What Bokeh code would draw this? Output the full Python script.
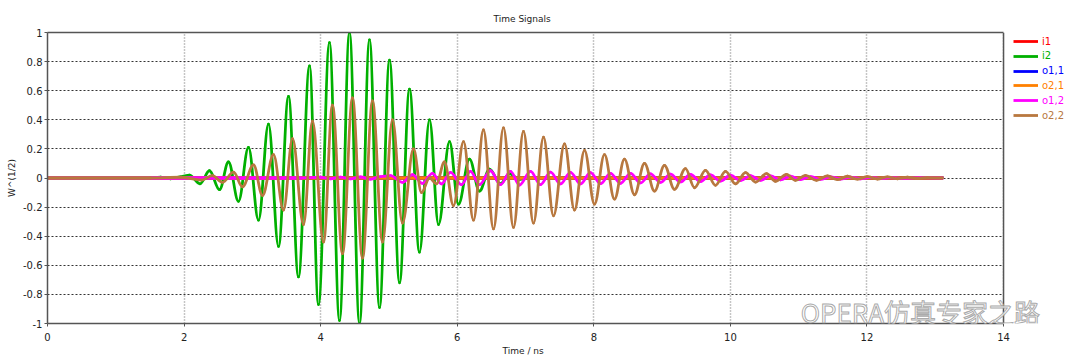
from bokeh.plotting import figure
from bokeh.models import (FixedTicker, CustomJSTickFormatter, Legend, LegendItem, Label,
                          BoxAnnotation, Span, Title, LinearAxis)
from bokeh.embed import file_html
from bokeh.resources import INLINE

# ---- data (extrema of each trace, time in ns) ----
t_zero = [0.0, 13.106]
v_zero = [0.0, 0.0]

t_i2 = [0.0, 1.494, 1.655, 1.801, 1.948, 2.079, 2.233, 2.372, 2.519, 2.650, 2.797, 2.943,
        3.090, 3.236, 3.383, 3.529, 3.675, 3.837, 3.968, 4.129, 4.276, 4.422, 4.569,
        4.715, 4.862, 5.008, 5.155, 5.301, 5.447, 5.594, 5.726, 5.887, 6.018, 6.180,
        6.326, 6.472, 6.634, 6.765, 6.912, 7.073, 13.106]
v_i2 = [0.0, 0.0, 0.005, -0.005, 0.008, 0.02, -0.04, 0.05, -0.08, 0.11, -0.16, 0.21,
        -0.29, 0.37, -0.47, 0.56, -0.68, 0.77, -0.87, 0.93, -0.98, 1.0, -1.0,
        0.95, -0.89, 0.81, -0.72, 0.61, -0.51, 0.40, -0.32, 0.25, -0.18, 0.13,
        -0.09, 0.06, -0.04, 0.03, -0.01, 0.0, 0.0]

t_o22 = [0.0, 1.508, 1.948, 2.255, 2.416, 2.563, 2.724, 2.855, 3.017, 3.148, 3.309, 3.456,
         3.588, 3.749, 3.880, 4.042, 4.173, 4.320, 4.466, 4.613, 4.759, 4.906, 5.052,
         5.198, 5.360, 5.477, 5.594, 5.696, 5.813, 5.945, 6.092, 6.238, 6.384, 6.531,
         6.677, 6.824, 6.970, 7.117, 7.263, 7.410, 7.571, 7.717, 7.864, 8.010, 8.156,
         8.303, 8.449, 8.596, 8.742, 8.889, 9.035, 9.181, 9.343, 9.474, 9.635, 9.782,
         9.928, 10.075, 10.221, 10.367, 10.529, 10.660, 10.821, 10.953, 11.100, 11.261,
         11.422, 11.568, 11.715, 11.861, 12.008, 12.154, 12.300, 12.447, 12.593, 12.740,
         12.886, 13.106]
v_o22 = [0.0, 0.0, 0.005, -0.014, 0.016, -0.03, 0.04, -0.06, 0.09, -0.12, 0.16, -0.22,
         0.27, -0.32, 0.39, -0.44, 0.50, -0.52, 0.55, -0.55, 0.53, -0.44, 0.40,
         -0.31, 0.20, -0.10, 0.0, -0.04, 0.11, -0.19, 0.25, -0.29, 0.33, -0.35,
         0.345, -0.34, 0.32, -0.31, 0.28, -0.26, 0.235, -0.22, 0.19, -0.18, 0.16,
         -0.145, 0.13, -0.115, 0.10, -0.09, 0.087, -0.078, 0.064, -0.067, 0.053, -0.05,
         0.046, -0.04, 0.037, -0.028, 0.03, -0.023, 0.025, -0.016, 0.018, -0.016,
         0.014, -0.011, 0.012, -0.008, 0.01, -0.007, 0.008, -0.005, 0.005, -0.003,
         0.003, 0.0]

t_o12 = [0.0, 3.705, 3.998, 4.144, 4.290, 4.437, 4.583, 4.730, 4.876, 5.023, 5.198, 5.345,
         5.491, 5.638, 5.770, 5.901, 6.062, 6.194, 6.326, 6.487, 6.633, 6.780, 6.912,
         7.073, 7.219, 7.366, 7.512, 7.658, 7.805, 7.951, 8.098, 8.244, 8.391, 8.537,
         8.683, 8.830, 8.976, 9.123, 9.269, 9.416, 9.562, 9.708, 9.855, 10.001, 10.148,
         10.294, 10.441, 10.587, 10.734, 10.880, 11.026, 11.173, 11.319, 11.466, 11.612,
         11.759, 11.905, 12.051, 12.198, 12.344, 12.491, 12.784, 13.106]
v_o12 = [0.0, 0.0, 0.005, -0.005, 0.006, -0.006, 0.007, -0.008, 0.01, 0.016, -0.03, 0.023,
         -0.037, 0.032, -0.041, 0.039, -0.046, 0.046, -0.046, 0.05, -0.046, 0.046, -0.048,
         0.046, -0.046, 0.040, -0.041, 0.039, -0.041, 0.037, -0.039, 0.032, -0.037, 0.032,
         -0.034, 0.028, -0.030, 0.026, -0.027, 0.024, -0.024, 0.021, -0.021, 0.019, -0.018,
         0.016, -0.016, 0.014, -0.013, 0.012, -0.011, 0.010, -0.009, 0.008, -0.007,
         0.006, -0.005, 0.004, -0.004, 0.003, -0.003, 0.002, 0.0]

series_names = ["i1", "i2", "o1,1", "o2,1", "o1,2", "o2,2"]
series_t = [t_zero, t_i2, t_zero, t_zero, t_o12, t_o22]
series_v = [v_zero, v_i2, v_zero, v_zero, v_o12, v_o22]
series_colors = ["#ff0000", "#00b000", "#0000ff", "#ff8000", "#ff00ff", "#b8783f"]

x_ticks = [0, 2, 4, 6, 8, 10, 12, 14]
y_ticks = [-1.0, -0.8, -0.6, -0.4, -0.2, 0.0, 0.2, 0.4, 0.6, 0.8, 1.0]
x_end = 14
x_view_end = 15.127   # frame continues under the legend column

FONT = "DejaVu Sans"
AX = "#555555"
LW = 2.8

p = figure(width=1080, height=359, output_backend="svg", toolbar_location=None,
           x_range=(0, x_view_end), y_range=(-1, 1),
           min_border_left=47, min_border_right=0, min_border_top=32, min_border_bottom=36,
           title="Time Signals")
p.title.align = "left"
p.title.offset = 446
p.title.standoff = 18
p.title.text_font = FONT
p.title.text_font_size = "9px"
p.title.text_font_style = "normal"
p.title.text_color = "#222222"

p.background_fill_color = "white"
p.outline_line_color = None

p.xaxis.ticker = FixedTicker(ticks=x_ticks)
p.yaxis.ticker = FixedTicker(ticks=y_ticks)
p.xaxis.bounds = (0, x_end)
p.yaxis.formatter = CustomJSTickFormatter(
    code="var s = tick.toFixed(1); s = s.replace(/\\.0$/, ''); return s == '-0' ? '0' : s;")
for ax in (p.xaxis, p.yaxis):
    ax.major_label_text_font = FONT
    ax.major_label_text_font_size = "10px"
    ax.major_label_text_color = "#222222"
    ax.axis_label_text_font = FONT
    ax.axis_label_text_font_size = "9px"
    ax.axis_label_text_font_style = "normal"
    ax.axis_label_text_color = "#222222"
    ax.axis_line_color = AX
    ax.axis_line_width = 1.5
    ax.major_tick_line_color = AX
    ax.major_tick_in = 0
    ax.major_tick_out = 3
    ax.minor_tick_line_color = None
p.yaxis.major_label_standoff = 2
p.yaxis.axis_label_standoff = 3
p.xaxis.major_label_standoff = 6
p.yaxis.axis_label = "W^(1/2)"

# top edge of the frame, only over 0..14
top = LinearAxis(bounds=(0, x_end), ticker=FixedTicker(ticks=[]),
                 axis_line_color=AX, axis_line_width=1.5,
                 major_tick_line_color=None, minor_tick_line_color=None,
                 major_label_text_font_size="0px")
p.add_layout(top, "above")

# x-axis title centred under the 0..14 part of the frame
xt = Title(text="Time / ns", align="left", offset=455, text_font=FONT,
           text_font_size="9px", text_font_style="normal", text_color="#222222",
           standoff=0)
p.add_layout(xt, "below")

p.xgrid.grid_line_color = "#8c8c8c"
p.xgrid.grid_line_dash = "1 2"
p.xgrid.grid_line_width = 1.5
p.ygrid.grid_line_color = "#333333"
p.ygrid.grid_line_dash = "2 2"
p.ygrid.grid_line_width = 1

# traces: smooth curves through the read extrema (horizontal tangent at each extremum)
K = 0.364
legend_renderers = []
for name, t, v, c in zip(series_names, series_t, series_v, series_colors):
    x0 = t[:-1]; x1 = t[1:]; y0 = v[:-1]; y1 = v[1:]
    cx0 = [a + K * (b - a) for a, b in zip(x0, x1)]
    cx1 = [b - K * (b - a) for a, b in zip(x0, x1)]
    # leading flat part as a plain line (also used for the legend sample)
    legend_renderers.append(p.line(t[:2], v[:2], line_color=c, line_width=LW))
    p.bezier(x0=x0, y0=y0, x1=x1, y1=y1, cx0=cx0, cy0=y0, cx1=cx1, cy1=y1,
             line_color=c, line_width=LW, line_cap="round")

# blank legend column and right edge of the frame at x = 14
p.add_layout(BoxAnnotation(left=x_end, fill_color="white", fill_alpha=1.0, line_color=None))
p.add_layout(Span(location=x_end, dimension="height", line_color=AX, line_width=1.5))

# one legend per entry so that each label takes its series colour
for k, (name, r, c) in enumerate(zip(series_names, legend_renderers, series_colors)):
    lg = Legend(items=[LegendItem(label=name, renderers=[r])],
                location=(966, 275 - 14.8 * k),
                label_text_color=c, label_text_font=FONT, label_text_font_size="10px",
                glyph_width=25, glyph_height=14, label_height=14, label_standoff=4,
                padding=0, margin=0, spacing=0,
                border_line_color=None, background_fill_alpha=0)
    p.add_layout(lg, "center")

wm = Label(x=11.03, y=-0.92, text="OPERA仿真专家之路", text_font="Noto Sans CJK SC",
           text_font_size="26px", text_color="white", text_outline_color="#a0a0a0",
           text_baseline="middle", text_alpha=0.9)
p.add_layout(wm)

open("out.html", "w").write(file_html(p, INLINE))
